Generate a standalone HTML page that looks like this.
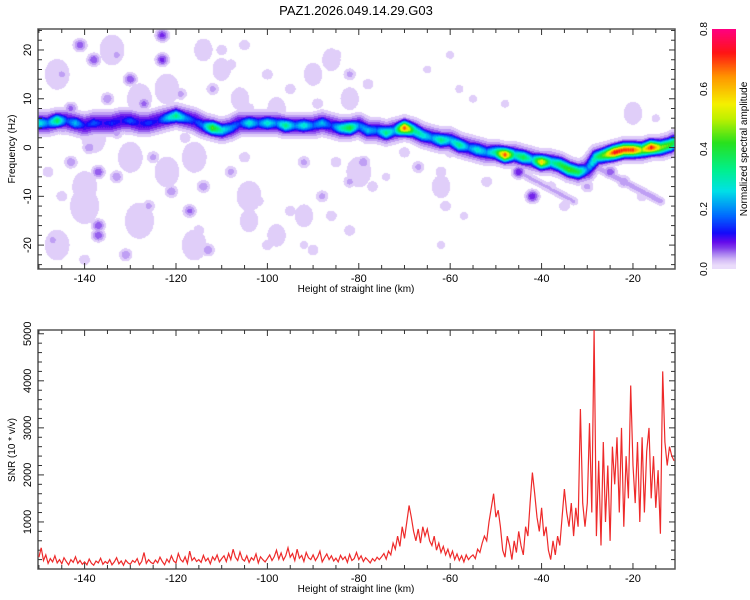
<!DOCTYPE html>
<html><head><meta charset="utf-8">
<style>
body{margin:0;background:#fff;width:750px;height:600px;overflow:hidden;font-family:"Liberation Sans",sans-serif;}
#wrap{position:relative;width:750px;height:600px;}
canvas{position:absolute;}
svg{position:absolute;left:0;top:0;}
text{font-family:"Liberation Sans",sans-serif;fill:#000;}
</style></head>
<body>
<div id="wrap">
<canvas id="hm" width="637" height="240" style="left:38px;top:29px"></canvas>
<canvas id="cb" width="24" height="240" style="left:712px;top:29px"></canvas>
<svg id="svg" width="750" height="600"></svg>
</div>
<script>
// ---- Data: spectrogram ridge ----
const ridgeX = [-150,-148,-146,-144,-142,-140,-138,-136,-134,-132,-130,-128,-126,-124,-122,-120,-118,-116,-114,-112,-110,-108,-106,-104,-102,-100,-98,-96,-94,-92,-90,-88,-86,-84,-82,-80,-78,-76,-74,-72,-70,-68,-66,-64,-62,-60,-58,-56,-54,-52,-50,-48,-46,-44,-42,-40,-38,-36,-34,-32,-30,-28,-26,-24,-22,-20,-18,-16,-14,-12,-11];
const ridgeF = [5,5,5.5,5.5,5,4.5,5,5,5,5.5,5.5,5,5,5.5,6,6.5,6,5.5,4.5,4,3.5,4,5,5,5,5,5,4.5,4.5,4.5,4.5,5,4.5,4,4,4.5,3.5,3.5,3,3.5,4,3.5,2.5,2,1.5,1.5,0.5,0,-0.5,-1,-1,-1.5,-1.5,-2,-2.5,-3,-3,-3.5,-4.5,-5,-4.5,-2,-1.5,-1,-0.5,-0.5,-0.5,0,0,0.5,1];
const ridgeA = [0.3,0.2,0.38,0.15,0.25,0.12,0.18,0.12,0.15,0.12,0.18,0.12,0.16,0.12,0.25,0.35,0.22,0.15,0.2,0.45,0.3,0.22,0.15,0.3,0.18,0.3,0.2,0.35,0.2,0.3,0.18,0.25,0.15,0.3,0.42,0.2,0.25,0.2,0.35,0.22,0.7,0.35,0.3,0.22,0.35,0.25,0.35,0.2,0.3,0.22,0.35,0.7,0.3,0.4,0.25,0.6,0.3,0.4,0.45,0.4,0.2,0.35,0.5,0.75,0.72,0.72,0.5,0.75,0.5,0.45,0.4];
// ---- Data: background spectral blobs ----
const blobX = [-141,-138,-123,-123,-130,-135,-127,-143,-145,-133,-139,-143,-137,-133,-148,-137,-137,-117,-121,-114,-113,-131,-145,-125,-118,-112,-108,-105,-100,-95,-92,-95,-88,-85,-82,-82,-79,-77,-85,-82,-78,-90,-100,-105,-108,-92,-60,-62,-61,-57,-62,-65,-60,-58,-55,-45,-42,-35,-25,-22,-18,-147,-128,-119,-110,-102,-97,-89,-74,-70,-133,-140,-126,-115,-104,-86,-67,-52,-48,-38,-30,-27,-20,-15];
const blobF = [21,18,23,18,14,10,9,8,15,3,0,-3,-5,-6,-5,-16,-18,-13,-9,-8,-21,-22,-10,-2,2,12,17,21,15,12,-3,-13,-10,-3,-7,-17,-3,-8,19,15,13,-21,-20,-2,-5,-20,-1,-5,-12,-14,-20,16,19,12,10,-5,-10,-12,-5,-7,-10,-19,-17,11,20,-11,7,9,-6,-1,19,-23,-12,-17,8,-14,-4,-7,9,-8,-8,-4,7,6];
const blobA = [0.08,0.08,0.09,0.09,0.08,0.06,0.07,0.07,0.05,0.05,0.06,0.06,0.08,0.06,0.04,0.08,0.08,0.07,0.06,0.06,0.06,0.06,0.04,0.05,0.04,0.05,0.04,0.04,0.04,0.04,0.05,0.04,0.05,0.04,0.05,0.04,0.06,0.04,0.04,0.05,0.04,0.04,0.04,0.04,0.05,0.03,0.04,0.04,0.04,0.03,0.03,0.03,0.03,0.03,0.03,0.1,0.1,0.04,0.08,0.06,0.04,0.05,0.04,0.05,0.04,0.04,0.04,0.04,0.03,0.04,0.05,0.04,0.05,0.04,0.04,0.04,0.05,0.04,0.03,0.04,0.05,0.04,0.03,0.03];
// ---- Data: faint haze regions ----
const hazeX = [-146,-140,-134,-128,-122,-116,-110,-104,-98,-92,-86,-80,-146,-138,-130,-122,-114,-106,-98,-90,-82,-62,-58,-140,-128,-116,-104,-92,-80,-60,-30,-20];
const hazeF = [15,-12,20,-15,12,-20,16,-10,8,-14,18,-5,-20,2,-2,-5,20,10,-18,15,10,-8,14,-8,10,-2,-15,20,-15,-18,8,7];
const hazeA = [0.03,0.035,0.03,0.035,0.03,0.03,0.025,0.03,0.025,0.025,0.025,0.03,0.03,0.03,0.03,0.03,0.025,0.025,0.025,0.025,0.025,0.025,0.02,0.03,0.03,0.03,0.025,0.02,0.02,0.02,0.02,0.025];
// ---- Data: colorbar ----
const cbTicks = [0.0,0.2,0.4,0.6,0.8];
// ---- Data: SNR series (0.5 km step from -150) ----
const snrStart = -150, snrStep = 0.5;
const snrValues = [
250,450,180,300,120,220,150,280,130,200,
110,240,160,90,200,140,260,120,180,100,
150,90,210,120,80,170,130,230,100,160,
120,200,90,150,240,110,170,80,190,130,
100,180,140,220,90,160,350,120,200,140,
110,190,130,250,160,90,210,140,280,170,
130,330,200,150,260,120,380,180,240,160,
200,140,290,170,230,110,260,190,300,150,
220,280,160,330,200,420,250,180,360,210,
170,280,140,240,190,320,130,260,200,150,
220,300,180,260,400,210,340,190,280,450,
250,330,180,420,230,290,160,350,240,200,
300,180,260,380,150,240,320,200,280,170,
230,150,290,200,260,140,310,180,220,350,
200,280,160,240,190,130,220,170,250,200,
260,330,210,380,300,550,420,700,480,900,
650,1000,1350,1100,800,600,850,550,900,700,
850,600,500,700,400,550,350,480,300,420,
250,380,200,320,180,280,150,300,200,260,
300,220,420,350,550,700,600,1000,1300,1600,
1100,1250,900,400,250,700,500,200,600,350,
800,500,300,900,700,1400,2050,1600,1100,800,
1300,700,900,400,200,600,300,700,500,1100,
1700,1200,900,1400,700,1300,900,3400,1400,900,
1400,3100,1200,5100,700,2300,500,2700,1000,2200,
600,2600,1800,2800,1200,3000,900,2400,1500,3900,
2200,1400,2700,1000,2800,1200,2500,3000,1500,2400,
1300,2100,750,4200,2700,2200,2600,2400,2300];
const xTicks = [-140,-120,-100,-80,-60,-40,-20];
const fTicks = [-20,-10,0,10,20];
const snrTicks = [1000,2000,3000,4000,5000];

const X0=38, X1=675, XMIN=-150.2, XMAX=-10.8;
const T0=29, T1=269, FMIN=-24.9, FMAX=24.3;
const B0=330, B1=569, SMIN=0, SMAX=5080;
const xs = v => X0 + (v-XMIN)/(XMAX-XMIN)*(X1-X0);
const fy = v => T1 - (v-FMIN)/(FMAX-FMIN)*(T1-T0);
const sy = v => B1 - (v-SMIN)/(SMAX-SMIN)*(B1-B0);

const stops=[[0,[255,255,255]],[0.01,[236,224,251]],[0.03,[212,188,247]],[0.05,[170,130,240]],[0.07,[130,60,235]],[0.09,[100,10,235]],[0.12,[20,10,250]],[0.18,[0,110,255]],[0.26,[0,225,230]],[0.33,[0,240,140]],[0.42,[40,225,30]],[0.5,[190,240,0]],[0.55,[245,240,0]],[0.64,[255,150,0]],[0.72,[255,20,20]],[0.8,[255,0,130]]];
function cmap(v){
  if(v<0.01) return [255,255,255];
  for(let i=1;i<stops.length;i++){
    if(v<=stops[i][0]){const a=stops[i-1],b=stops[i];const t=(v-a[0])/(b[0]-a[0]);
      return a[1].map((c,k)=>Math.round(c+(b[1][k]-c)*t));}
  }
  return stops[stops.length-1][1];
}
function interp(arrX,arrY,x){
  if(x<=arrX[0]) return arrY[0];
  for(let i=1;i<arrX.length;i++) if(x<=arrX[i]){const t=(x-arrX[i-1])/(arrX[i]-arrX[i-1]);return arrY[i-1]+(arrY[i]-arrY[i-1])*t;}
  return arrY[arrY.length-1];
}
const g=[];
for(let x=ridgeX[0]; x<=ridgeX[ridgeX.length-1]; x+=0.5){
  const f=interp(ridgeX,ridgeF,x);
  g.push([x, f, 0.12, 1.2, 1.5]);
  g.push([x, f, interp(ridgeX,ridgeA,x), 0.8, 0.9]);
}
for(let i=0;i<blobX.length;i++) g.push([blobX[i],blobF[i],blobA[i],1.0,0.9]);
for(let i=0;i<hazeX.length;i++) g.push([hazeX[i],hazeF[i],hazeA[i],3.0,3.5]);
for(let x=-45;x<=-33;x+=0.5) g.push([x,-5+(x+45)*(-6/12),0.045,0.8,0.7]);
for(let x=-28;x<=-14;x+=0.5) g.push([x,-4+(x+28)*(-7/14),0.05,0.8,0.7]);

(function drawHeat(){
  const c=document.getElementById('hm'),ctx=c.getContext('2d');
  const W=c.width,H=c.height,img=ctx.createImageData(W,H);
  for(let py=0;py<H;py++){
    const f=FMAX-(py+0.5)/H*(FMAX-FMIN);
    for(let px=0;px<W;px++){
      const x=XMIN+(px+0.5)/W*(XMAX-XMIN);
      let v=0;
      for(const q of g){const dx=(x-q[0])/q[3];if(dx>4||dx<-4)continue;const df=(f-q[1])/q[4];if(df>4||df<-4)continue;
        const val=q[2]*Math.exp(-0.5*(dx*dx+df*df));if(val>v)v=val;}
      const vq=Math.floor(v/0.02)*0.02;
      const col=cmap(vq<0.02?0:vq);const k=(py*W+px)*4;
      img.data[k]=col[0];img.data[k+1]=col[1];img.data[k+2]=col[2];img.data[k+3]=255;
    }
  }
  ctx.putImageData(img,0,0);
  const cb=document.getElementById('cb'),cx=cb.getContext('2d');
  for(let py=0;py<cb.height;py++){const v=0.8*(1-(py+0.5)/cb.height);const col=cmap(Math.max(v,0.012));
    cx.fillStyle=`rgb(${col[0]},${col[1]},${col[2]})`;cx.fillRect(0,py,24,1);}
})();

const NS='http://www.w3.org/2000/svg', svg=document.getElementById('svg');
function el(tag,attrs,parent){const e=document.createElementNS(NS,tag);for(const k in attrs)e.setAttribute(k,attrs[k]);(parent||svg).appendChild(e);return e;}
function txt(s,attrs){const t=el('text',attrs);t.textContent=s;return t;}

const title=txt('PAZ1.2026.049.14.29.G03',{x:356,y:15,'font-size':13,'text-anchor':'middle'});



function axes(top,bot,name){
  const fr=el('rect',{x:X0,y:top,width:X1-X0,height:bot-top,fill:'none',stroke:'#555','stroke-width':1.5});
  
  
  for(let v=-150;v<=-11;v+=5){
    const major=v%20===0, L=major?6:4, x=xs(v);
    el('line',{x1:x,x2:x,y1:bot,y2:bot-L,stroke:'#333','stroke-width':1});
    el('line',{x1:x,x2:x,y1:top,y2:top+L,stroke:'#333','stroke-width':1});
  }
  xTicks.forEach(v=>{const t=txt(String(v),{x:xs(v),y:bot+13,'font-size':11,'text-anchor':'middle'});
    
    });
  const xt=txt('Height of straight line (km)',{x:356,y:bot+23,'font-size':10,'text-anchor':'middle'});
  
  
}
axes(T0,T1,'spectrogram');
for(let v=-24;v<=24;v+=2){const y=fy(v),L=v%10===0?6:4;
  el('line',{x1:X0,x2:X0+L,y1:y,y2:y,stroke:'#333'});el('line',{x1:X1,x2:X1-L,y1:y,y2:y,stroke:'#333'});}
fTicks.forEach(v=>{const t=txt(String(v),{x:0,y:0,'font-size':11,'text-anchor':'middle',transform:`translate(31,${fy(v)}) rotate(-90)`});
  
  });
const ft=txt('Frequency (Hz)',{x:0,y:0,'font-size':10,'text-anchor':'middle',transform:`translate(15,149) rotate(-90)`});



cbTicks.forEach(v=>{const y=269-v/0.8*240;
  const t=txt(v.toFixed(1),{x:0,y:0,'font-size':10,'text-anchor':'middle',transform:`translate(707,${y}) rotate(-90)`});
  
  });
const ct=txt('Normalized spectral amplitude',{x:0,y:0,'font-size':10,'text-anchor':'middle',transform:`translate(747,149) rotate(-90)`});



axes(B0,B1,'snr');
for(let v=200;v<=5000;v+=200){const y=sy(v),L=v%1000===0?6:4;
  el('line',{x1:X0,x2:X0+L,y1:y,y2:y,stroke:'#333'});el('line',{x1:X1,x2:X1-L,y1:y,y2:y,stroke:'#333'});}
snrTicks.forEach(v=>{const t=txt(String(v),{x:0,y:0,'font-size':11,'text-anchor':'middle',transform:`translate(31,${sy(v)}) rotate(-90)`});
  
  });
const st=txt('SNR (10 * v/v)',{x:0,y:0,'font-size':10,'text-anchor':'middle',transform:`translate(15,450) rotate(-90)`});


el('clipPath',{id:'clipB'}).appendChild((()=>{const r=document.createElementNS(NS,'rect');r.setAttribute('x',X0);r.setAttribute('y',B0);r.setAttribute('width',X1-X0);r.setAttribute('height',B1-B0);return r;})());
const pts=snrValues.map((v,i)=>xs(snrStart+i*snrStep).toFixed(1)+','+sy(v).toFixed(1)).join(' ');
const line=el('polyline',{points:pts,fill:'none',stroke:'#ee2a2a','stroke-width':1.2,'clip-path':'url(#clipB)'});


</script>
</body></html>
